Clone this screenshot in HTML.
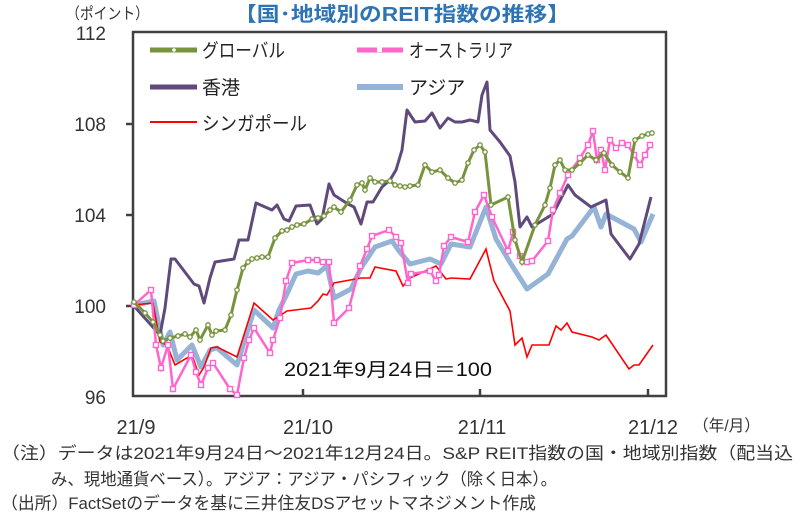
<!DOCTYPE html>
<html><head><meta charset="utf-8"><style>
body{margin:0;background:#fff;}
svg text{font-family:"Liberation Sans","Noto Sans CJK JP",sans-serif;}
</style></head><body>
<svg width="805" height="513" viewBox="0 0 805 513" xmlns="http://www.w3.org/2000/svg">
<defs>
<marker id="c" viewBox="0 0 6 6" refX="3" refY="3" markerWidth="6" markerHeight="6" markerUnits="userSpaceOnUse"><circle cx="3" cy="3" r="2.2" fill="#fff" stroke="#77933c" stroke-width="1.3"/></marker>
<marker id="s" viewBox="0 0 7 7" refX="3.5" refY="3.5" markerWidth="7" markerHeight="7" markerUnits="userSpaceOnUse"><rect x="1" y="1" width="5" height="5" fill="#fff" stroke="#ff66cc" stroke-width="1.4"/></marker>
</defs>
<text x="234" y="21" textLength="336" lengthAdjust="spacingAndGlyphs" font-size="20" font-weight="bold" fill="#2e74b5">【国･地域別のREIT指数の推移】</text>
<text x="66" y="19" textLength="83" lengthAdjust="spacingAndGlyphs" font-size="16" fill="#333">（ポイント）</text>
<g font-size="19" fill="#333" text-anchor="end">
<text x="106" y="40">112</text><text x="106" y="131">108</text><text x="106" y="222">104</text><text x="106" y="313">100</text><text x="106" y="404">96</text>
</g>
<rect x="133" y="32" width="533" height="364" fill="none" stroke="#404040" stroke-width="2.5"/>
<g stroke="#404040" stroke-width="2.5">
<line x1="126" y1="124" x2="133" y2="124"/><line x1="126" y1="215" x2="133" y2="215"/><line x1="126" y1="306" x2="133" y2="306"/>
<line x1="303" y1="389" x2="303" y2="396"/><line x1="480" y1="389" x2="480" y2="396"/><line x1="648" y1="389" x2="648" y2="396"/>
</g>
<g font-size="20" fill="#333" text-anchor="middle">
<text x="136" y="434">21/9</text><text x="308" y="434">21/10</text><text x="482" y="434">21/11</text><text x="653" y="434">21/12</text>
</g>
<text x="693" y="431" textLength="67" lengthAdjust="spacingAndGlyphs" font-size="16" fill="#333">（年/月）</text>
<polyline fill="none" stroke="#95b3d7" stroke-width="5" stroke-linejoin="round" points="134,305 154,301 163,345 170,332 177,360 192,345 201,367 210,350 217,348 237,365 254,310 273,328 279,310 286,296 296,274 308,271 318,273 327,266 334,298 351,289 361,268 375,247 392,241 399,251 410,264 430,259 441,264 451,244 470,247 486,207 496,239 511,264 527,289 548,274 567,239 572,236 594,207 601,227 606,214 634,229 641,242 653,214"/>
<polyline fill="none" stroke="#ff0000" stroke-width="1.6" points="134,305 153,303 160,342 167,345 175,365 192,355 199,375 204,367 211,348 217,347 237,357 254,303 273,320 287,311 311,308 318,301 323,294 327,295 334,283 361,278 370,278 375,267 396,271 403,286 410,278 436,266 446,279 451,278 470,279 486,249 494,281 510,311 515,345 522,338 527,357 532,345 549,345 556,326 561,330 567,323 572,332 592,337 599,340 606,335 629,369 634,365 639,365 653,345"/>
<polyline fill="none" stroke="#604a7b" stroke-width="3" stroke-linejoin="round" points="134,306 160,335 165,308 171,259 175,259 194,284 199,286 204,303 210,278 215,262 234,259 239,240 248,240 256,203 272,210 277,205 284,219 289,221 296,206 310,205 317,224 322,219 329,184 334,195 348,204 354,207 361,224 367,202 373,202 382,187 390,180 396,170 402,150 407,110 415,122 425,121 432,113 440,128 448,118 455,122 462,122 470,120 478,122 482,95 487,82 490,130 500,142 510,156 515,182 520,227 527,217 532,227 553,214 568,185 575,195 591,207 606,200 611,234 630,259 639,244 651,197"/>
<polyline fill="none" stroke="#ff66cc" stroke-width="2.5" marker-start="url(#s)" marker-mid="url(#s)" marker-end="url(#s)" points="134,305 151,290 156,345 161,368 168,345 173,389 191,355 196,372 201,385 208,368 213,363 230,389 237,395 244,358 249,340 254,328 270,353 273,340 280,318 286,281 292,263 308,260 317,260 323,262 329,262 334,323 349,308 360,266 367,249 372,236 389,230 396,237 401,243 408,283 411,274 430,271 436,281 439,275 444,246 451,237 468,242 475,212 484,195 492,217 508,251 513,232 520,256 527,262 532,261 548,241 553,210 560,193 568,175 580,158 588,145 593,131 597,160 601,150 605,170 610,140 616,148 622,143 628,145 634,155 640,165 645,155 650,145"/>
<polyline fill="none" stroke="#77933c" stroke-width="3" marker-start="url(#c)" marker-mid="url(#c)" marker-end="url(#c)" points="134,302 145,313 153,322 160,335 163,341 170,338 178,336 185,334 190,337 196,330 200,340 208,325 212,335 216,331 225,330 231,315 237,290 243,268 248,262 252,259 257,258 262,257 268,257 275,238 282,231 287,230 292,227 297,225 304,224 312,219 318,218 324,216 330,210 334,207 341,212 350,200 357,185 362,183 365,190 370,178 375,182 382,182 390,181 395,185 400,186 405,187 410,186 418,185 425,165 432,172 440,170 448,178 455,183 462,180 468,163 474,150 480,145 485,152 491,205 508,197 515,240 522,262 535,225 545,205 550,188 555,165 560,160 565,170 572,170 580,163 588,155 596,160 604,153 612,165 620,172 628,178 635,140 642,136 648,134 652,133"/>
<line x1="150" y1="50" x2="197" y2="50" stroke="#77933c" stroke-width="5"/><circle cx="174" cy="50" r="1.8" fill="#fff"/>
<text x="202" y="57" textLength="83" lengthAdjust="spacingAndGlyphs" font-size="19" fill="#222">グローバル</text>
<line x1="357" y1="50" x2="403" y2="50" stroke="#ff66cc" stroke-width="5"/><rect x="377" y="47" width="5" height="5" fill="#fff"/>
<text x="409" y="57" textLength="104" lengthAdjust="spacingAndGlyphs" font-size="19" fill="#222">オーストラリア</text>
<line x1="150" y1="87" x2="197" y2="87" stroke="#604a7b" stroke-width="5"/>
<text x="202" y="94" font-size="19" fill="#222">香港</text>
<line x1="357" y1="87" x2="403" y2="87" stroke="#95b3d7" stroke-width="6"/>
<text x="409" y="94" font-size="19" fill="#222">アジア</text>
<line x1="150" y1="122" x2="197" y2="122" stroke="#ff0000" stroke-width="2"/>
<text x="202" y="130" textLength="105" lengthAdjust="spacingAndGlyphs" font-size="19" fill="#222">シンガポール</text>
<text x="284" y="376" textLength="208" lengthAdjust="spacingAndGlyphs" font-size="19" fill="#111">2021年9月24日＝100</text>
<g font-size="17" fill="#333">
<text x="1" y="459" textLength="792" lengthAdjust="spacingAndGlyphs">（注）データは2021年9月24日～2021年12月24日。S&amp;P  REIT指数の国・地域別指数（配当込</text>
<text x="51" y="485" textLength="506" lengthAdjust="spacingAndGlyphs">み、現地通貨ベース）。アジア：アジア・パシフィック（除く日本）。</text>
<text x="1" y="509" textLength="535" lengthAdjust="spacingAndGlyphs">（出所）FactSetのデータを基に三井住友DSアセットマネジメント作成</text>
</g>
</svg>
</body></html>
